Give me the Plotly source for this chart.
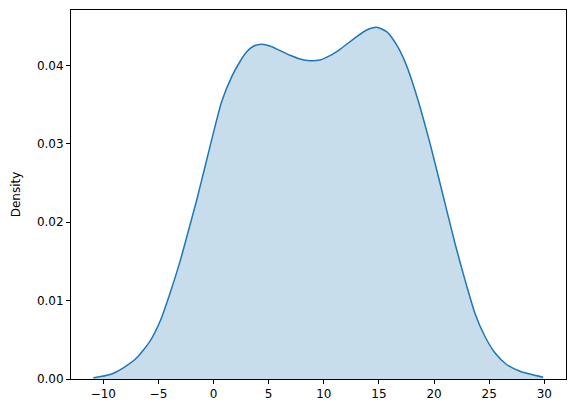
import plotly.graph_objects as go

# density curve (x value, density)
x_vals = [-10.9, -9.38, -8.18, -6.96, -5.76, -4.85, -3.94, -3.04, -2.13, -1.52,
          -0.77, -0.02, 0.74, 1.65, 2.40, 3.01, 3.61, 4.37, 5.12, 6.03,
          6.94, 7.84, 8.75, 9.66, 10.56, 11.47, 12.98, 13.89, 14.79, 15.70,
          16.61, 17.36, 17.97, 18.72, 19.63, 20.69, 21.89, 22.80, 23.70, 24.61,
          25.52, 26.58, 27.79, 29.9]
density = [0.00015, 0.00057, 0.00143, 0.0027, 0.00482, 0.00736, 0.01098, 0.0150, 0.01968, 0.02287,
           0.02711, 0.03136, 0.03539, 0.03857, 0.0405, 0.04175, 0.04245, 0.0427, 0.04248, 0.04189,
           0.0413, 0.04083, 0.04061, 0.0407, 0.04125, 0.04206, 0.04367, 0.04452, 0.04487, 0.04431,
           0.04261, 0.04048, 0.03815, 0.03475, 0.03009, 0.02414, 0.01735, 0.01268, 0.00843, 0.00545,
           0.00334, 0.00185, 0.00099, 0.00023]

x_ticks = [-10, -5, 0, 5, 10, 15, 20, 25, 30]
y_ticks = [0.0, 0.01, 0.02, 0.03, 0.04]

blue = "#1f77b4"

fig = go.Figure()
fig.add_trace(go.Scatter(
    x=x_vals,
    y=density,
    mode="lines",
    line=dict(color=blue, width=1.5, shape="spline", smoothing=0.6),
    fill="tozeroy",
    fillcolor="rgba(31,119,180,0.25)",
    showlegend=False,
))

axis_style = dict(
    showline=True, linecolor="black", linewidth=1, mirror=True,
    ticks="outside", ticklen=4, tickcolor="black", tickwidth=1,
    showgrid=False, zeroline=False, automargin=False,
    tickfont=dict(family="DejaVu Sans", size=12, color="black"),
)

fig.update_xaxes(range=[-12.93, 31.97], tickvals=x_ticks,
                 ticktext=[str(t).replace("-", "\u2212") for t in x_ticks], **axis_style)
fig.update_yaxes(range=[0, 0.04707], tickvals=y_ticks, tickformat=".2f",
                 title=dict(text="Density", font=dict(family="DejaVu Sans", size=12, color="black"),
                            standoff=13),
                 **axis_style)

fig.update_layout(
    width=576, height=413,
    margin=dict(l=71, r=10, t=10, b=34),
    plot_bgcolor="white", paper_bgcolor="white",
)

# drop the default 8px body margin so the figure sits at the page corner
fig.write_html("out.html", config={"displayModeBar": False},
               post_script="document.body.style.margin='0';")
